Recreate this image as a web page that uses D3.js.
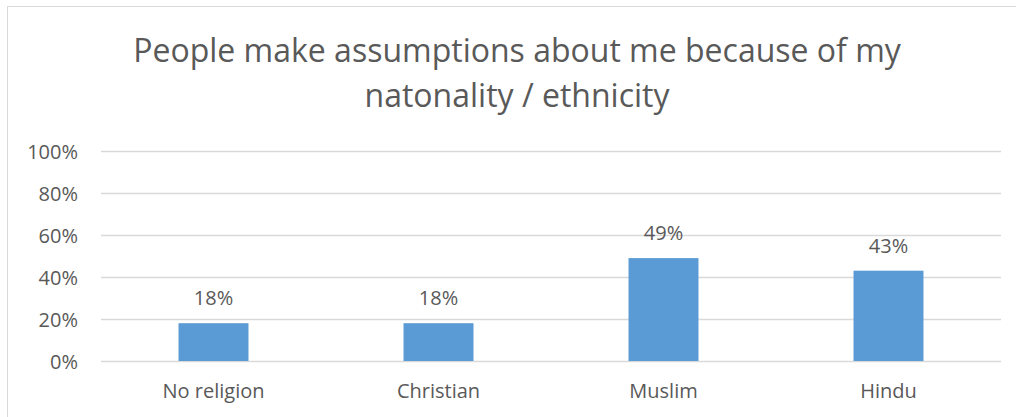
<!DOCTYPE html>
<html>
<head>
<meta charset="utf-8">
<script src="https://cdn.jsdelivr.net/npm/d3@7"></script>
<style>
  body { margin: 0; background: #fff; }
  #chart { width: 1016px; height: 417px; }
  text { font-family: "Open Sans", sans-serif; fill: #595959; }
</style>
</head>
<body>
<div id="chart"></div>
<script>
// data
const categories = ["No religion", "Christian", "Muslim", "Hindu"];
const values = [0.18, 0.18, 0.49, 0.43];
const tickValues = [0, 0.2, 0.4, 0.6, 0.8, 1.0];
const titleLines = ["People make assumptions about me because of my", "natonality / ethnicity"];

const width = 1016;
const height = 417;
const margin = { top: 151, right: 15, bottom: 56, left: 101 };
const plotW = width - margin.left - margin.right;
const plotH = height - margin.top - margin.bottom;

const svg = d3
  .select("#chart")
  .append("svg")
  .attr("width", width)
  .attr("height", height);

// chart frame
svg
  .append("rect")
  .attr("x", 7.5)
  .attr("y", 6.5)
  .attr("width", width)
  .attr("height", height)
  .attr("fill", "none")
  .attr("stroke", "#d9d9d9")
  .attr("stroke-width", 1);

// title
svg
  .append("g")
  .selectAll("text")
  .data(titleLines)
  .enter()
  .append("text")
  .attr("x", 517)
  .attr("y", (d, i) => 62 + i * 45)
  .attr("text-anchor", "middle")
  .style("font-size", "32px")
  .text((d) => d);

const g = svg
  .append("g")
  .attr("transform", "translate(" + margin.left + "," + margin.top + ")");

const x = d3
  .scaleBand()
  .domain(categories)
  .range([0, plotW])
  .paddingInner(0.689)
  .paddingOuter(0.3445);

const y = d3.scaleLinear().domain([0, 1]).range([plotH, 0]);

// gridlines + tick labels
const yAxis = d3
  .axisLeft(y)
  .tickValues(tickValues)
  .tickSize(-plotW)
  .tickPadding(23)
  .tickFormat(d3.format(".0%"));

g.append("g")
  .attr("class", "y-axis")
  .call(yAxis)
  .call((s) => s.select(".domain").remove())
  .call((s) =>
    s.selectAll(".tick line").attr("stroke", "#d9d9d9").attr("stroke-width", 1.3)
  )
  .call((s) =>
    s
      .selectAll(".tick text")
      .style("font-size", "20px")
      .attr("fill", "#595959")
      .attr("dy", "0.35em")
  );

// bars
g.selectAll("rect.bar")
  .data(values)
  .enter()
  .append("rect")
  .attr("class", "bar")
  .attr("x", (d, i) => x(categories[i]))
  .attr("y", (d) => y(d))
  .attr("width", x.bandwidth())
  .attr("height", (d) => plotH - y(d))
  .attr("fill", "#5b9bd5");

// value labels
g.selectAll("text.val")
  .data(values)
  .enter()
  .append("text")
  .attr("class", "val")
  .attr("x", (d, i) => x(categories[i]) + x.bandwidth() / 2)
  .attr("y", (d) => y(d) - 18)
  .attr("text-anchor", "middle")
  .style("font-size", "20px")
  .text((d) => d3.format(".0%")(d));

// category labels
g.selectAll("text.cat")
  .data(categories)
  .enter()
  .append("text")
  .attr("class", "cat")
  .attr("x", (d) => x(d) + x.bandwidth() / 2)
  .attr("y", plotH + 37)
  .attr("text-anchor", "middle")
  .style("font-size", "20px")
  .text((d) => d);
</script>
</body>
</html>
